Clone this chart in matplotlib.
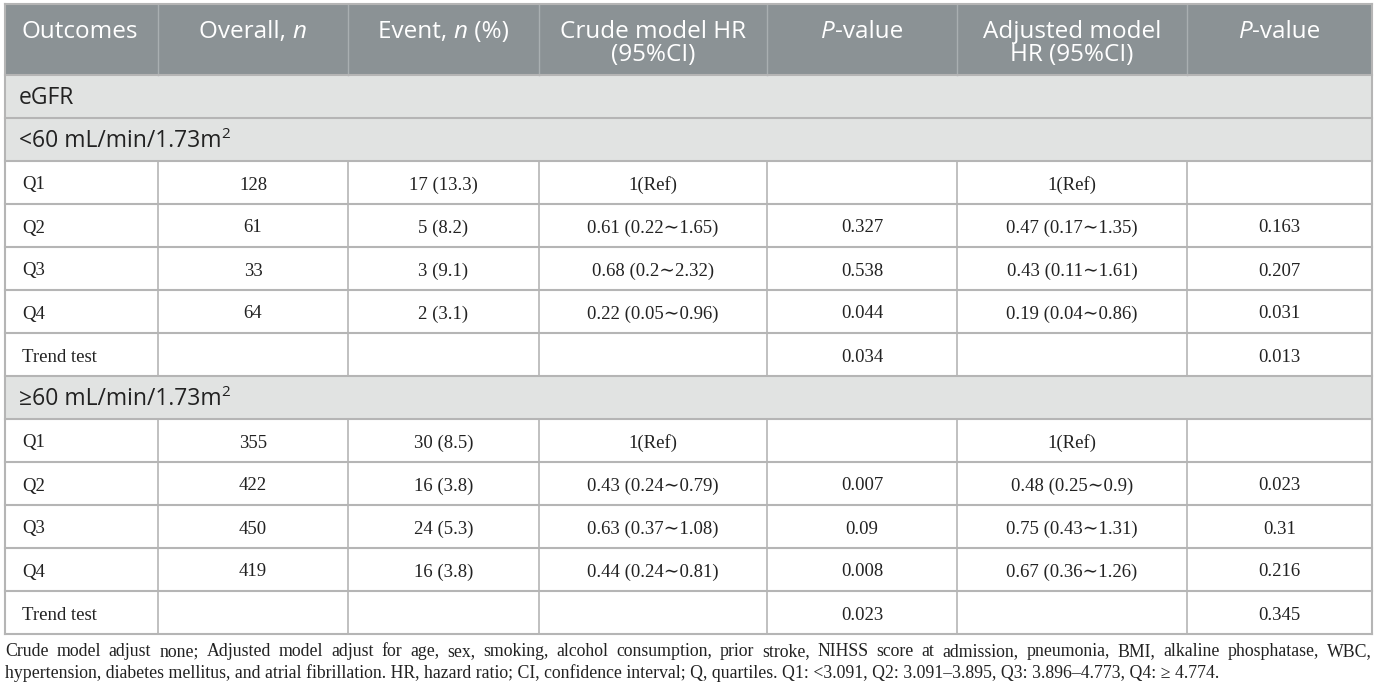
import matplotlib
matplotlib.use('Agg')
import matplotlib.pyplot as plt
from matplotlib.patches import Rectangle

SANS = ['Open Sans', 'DejaVu Sans']
SERIF = ['Liberation Serif', 'DejaVu Serif']

# ---- data ----
quartiles = ['Q1', 'Q2', 'Q3', 'Q4']
group_labels = ['<60 mL/min/1.73m', '\u226560 mL/min/1.73m']

overall_lt60 = [128, 61, 33, 64]
event_lt60 = ['17 (13.3)', '5 (8.2)', '3 (9.1)', '2 (3.1)']
crude_hr_lt60 = ['1(Ref)', '0.61 (0.22\u223c1.65)', '0.68 (0.2\u223c2.32)', '0.22 (0.05\u223c0.96)']
crude_p_lt60 = ['', '0.327', '0.538', '0.044']
adj_hr_lt60 = ['1(Ref)', '0.47 (0.17\u223c1.35)', '0.43 (0.11\u223c1.61)', '0.19 (0.04\u223c0.86)']
adj_p_lt60 = ['', '0.163', '0.207', '0.031']
trend_lt60 = ['0.034', '0.013']

overall_ge60 = [355, 422, 450, 419]
event_ge60 = ['30 (8.5)', '16 (3.8)', '24 (5.3)', '16 (3.8)']
crude_hr_ge60 = ['1(Ref)', '0.43 (0.24\u223c0.79)', '0.63 (0.37\u223c1.08)', '0.44 (0.24\u223c0.81)']
crude_p_ge60 = ['', '0.007', '0.09', '0.008']
adj_hr_ge60 = ['1(Ref)', '0.48 (0.25\u223c0.9)', '0.75 (0.43\u223c1.31)', '0.67 (0.36\u223c1.26)']
adj_p_ge60 = ['', '0.023', '0.31', '0.216']
trend_ge60 = ['0.023', '0.345']

footnote_1 = ('Crude model adjust none; Adjusted model adjust for age, sex, smoking, alcohol consumption, '
              'prior stroke, NIHSS score at admission, pneumonia, BMI, alkaline phosphatase, WBC,')
footnote_2 = ('hypertension, diabetes mellitus, and atrial fibrillation. HR, hazard ratio; CI, confidence '
              'interval; Q, quartiles. Q1: <3.091, Q2: 3.091\u20133.895, Q3: 3.896\u20134.773, Q4: \u2265 4.774.')

# ---- layout ----
W, H = 1375, 692
col_x = [5, 158, 348, 539, 767, 957, 1187, 1372]
head_top, head_bot = 4, 75
row_h = 43

HEAD_BG = '#8b9295'
SEC_BG = '#e1e3e2'
LINE = '#b5b5b5'
TXT = '#222222'

fig = plt.figure(figsize=(W / 100, H / 100), dpi=100)
ax = fig.add_axes([0, 0, 1, 1])
ax.set_xlim(0, W)
ax.set_ylim(H, 0)
ax.axis('off')
renderer = fig.canvas.get_renderer()


def text_w(t):
    return t.get_window_extent(renderer).width


def runs(x, y, parts, ha='center', size=17.5, color='white', family=SANS):
    texts = []
    for s, st in parts:
        texts.append(ax.text(0, y, s, fontsize=size, color=color, family=family,
                             style=st, va='center', ha='left'))
    widths = [text_w(t) for t in texts]
    x0 = x - sum(widths) / 2 if ha == 'center' else x
    for t, w in zip(texts, widths):
        t.set_x(x0)
        x0 += w
    return x0


# header
ax.add_patch(Rectangle((col_x[0], head_top), col_x[-1] - col_x[0], head_bot - head_top,
                       facecolor=HEAD_BG, edgecolor='none'))
for x in col_x[1:-1]:
    ax.plot([x, x], [head_top, head_bot], color='#a9afb1', lw=1)

l1, l2 = 32, 55
runs(22, l1, [('Outcomes', 'normal')], ha='left')
cx = [(col_x[i] + col_x[i + 1]) / 2 for i in range(len(col_x) - 1)]
runs(cx[1], l1, [('Overall, ', 'normal'), ('n', 'italic')])
runs(cx[2], l1, [('Event, ', 'normal'), ('n', 'italic'), (' (%)', 'normal')])
runs(cx[3], l1, [('Crude model HR', 'normal')])
runs(cx[3], l2, [('(95%CI)', 'normal')])
runs(cx[4], l1, [('P', 'italic'), ('-value', 'normal')])
runs(cx[5], l1, [('Adjusted model', 'normal')])
runs(cx[5], l2, [('HR (95%CI)', 'normal')])
runs(cx[6], l1, [('P', 'italic'), ('-value', 'normal')])

# body rows
rows = [('section', 'eGFR'), ('section', group_labels[0])]
for i, q in enumerate(quartiles):
    rows.append(('data', [q, str(overall_lt60[i]), event_lt60[i], crude_hr_lt60[i],
                          crude_p_lt60[i], adj_hr_lt60[i], adj_p_lt60[i]]))
rows.append(('data', ['Trend test', '', '', '', trend_lt60[0], '', trend_lt60[1]]))
rows.append(('section', group_labels[1]))
for i, q in enumerate(quartiles):
    rows.append(('data', [q, str(overall_ge60[i]), event_ge60[i], crude_hr_ge60[i],
                          crude_p_ge60[i], adj_hr_ge60[i], adj_p_ge60[i]]))
rows.append(('data', ['Trend test', '', '', '', trend_ge60[0], '', trend_ge60[1]]))

y = head_bot
for kind, content in rows:
    yc = y + row_h / 2
    if kind == 'section':
        ax.add_patch(Rectangle((col_x[0], y), col_x[-1] - col_x[0], row_h,
                               facecolor=SEC_BG, edgecolor='none'))
        t = ax.text(19, yc + 1.5, content, fontsize=16.5, color=TXT, family=SANS,
                    va='center', ha='left')
        if content.endswith('m'):
            xe = 19 + text_w(t)
            ax.text(xe, yc - 5.5, '2', fontsize=11, color=TXT, family=SANS, va='center', ha='left')
    else:
        for j, s in enumerate(content):
            if not s:
                continue
            if j == 0:
                ax.text(22, yc + 2.5, s, fontsize=13.5, color=TXT, family=SERIF, va='center', ha='left')
            else:
                ax.text(cx[j], yc + 2.5, s, fontsize=13.5, color=TXT, family=SERIF,
                        va='center', ha='center')
        for x in col_x[1:-1]:
            ax.plot([x, x], [y, y + row_h], color=LINE, lw=1.2)
    y += row_h
table_bot = y

# horizontal lines
ys = [head_bot] + [head_bot + row_h * k for k in range(1, len(rows) + 1)]
for yy in ys:
    ax.plot([col_x[0], col_x[-1]], [yy, yy], color=LINE, lw=1.5)
ax.plot([col_x[0], col_x[0]], [head_top, table_bot], color=LINE, lw=1.5)
ax.plot([col_x[-1], col_x[-1]], [head_top, table_bot], color=LINE, lw=1.5)
ax.plot([col_x[0], col_x[-1]], [head_top, head_top], color=LINE, lw=1.5)

# footnote, first line justified
words = footnote_1.split(' ')
wt = [ax.text(0, 652, w, fontsize=12.8, color=TXT, family=SERIF, va='center', ha='left') for w in words]
ww = [text_w(t) for t in wt]
gap = (col_x[-1] - col_x[0] - sum(ww)) / (len(words) - 1)
xx = col_x[0]
for t, w in zip(wt, ww):
    t.set_x(xx)
    xx += w + gap
ax.text(col_x[0], 673, footnote_2, fontsize=12.8, color=TXT, family=SERIF, va='center', ha='left')

fig.savefig('out.png', dpi=100)
